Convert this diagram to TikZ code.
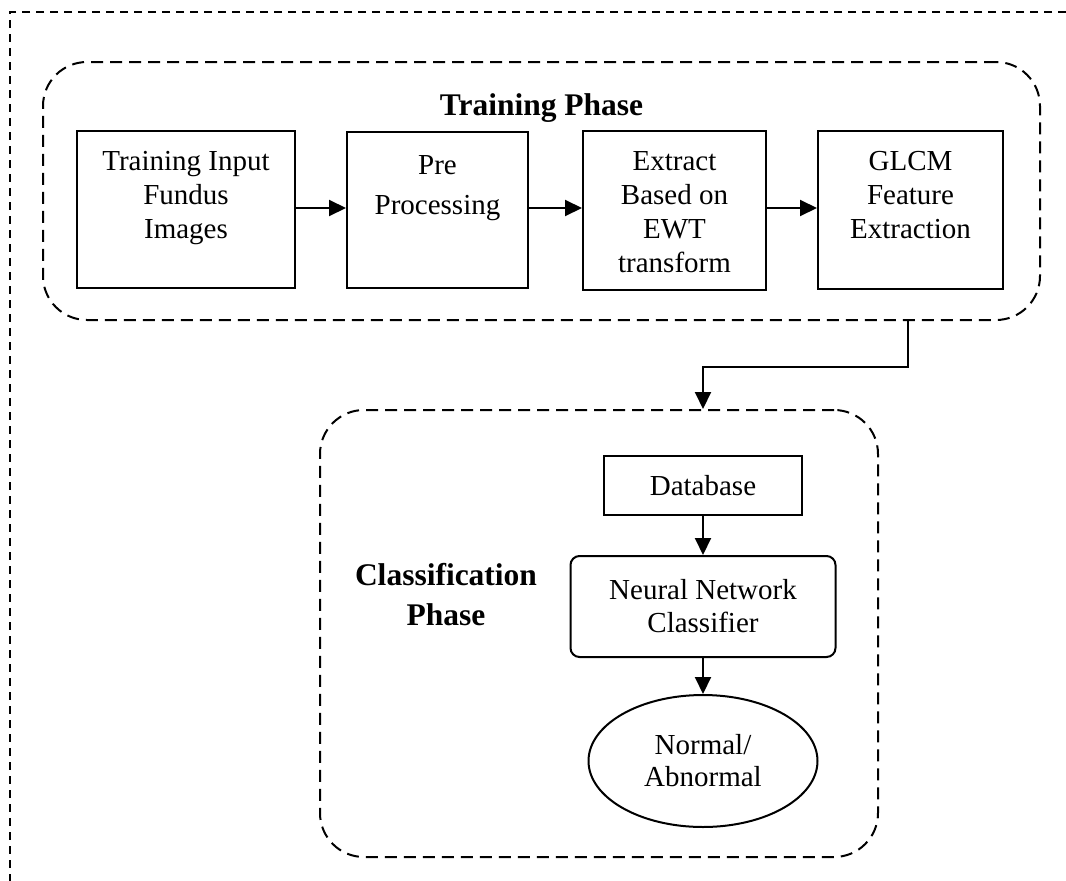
\documentclass[tikz,border=0pt]{standalone}
\usepackage{fontspec}
\setmainfont{Liberation Serif}
\usetikzlibrary{arrows.meta,shapes.geometric}
\begin{document}
\begin{tikzpicture}[x=1pt,y=-1pt,
  frame/.style={line width=1.8pt, dash pattern=on 8pt off 6pt},
  group/.style={draw, line width=2pt, dash pattern=on 12pt off 7pt, rounded corners=44pt, inner sep=0pt},
  stepbox/.style={draw, line width=2pt, inner sep=0pt},
  txt/.style={font=\fontsize{29}{34}\selectfont, align=center, inner sep=0pt},
  widetxt/.style={font=\fontsize{29}{40}\selectfont, align=center, inner sep=0pt},
  title/.style={font=\fontsize{31.5}{40}\selectfont\bfseries, align=center, inner sep=0pt},
  flow/.style={line width=2pt, -{Triangle[length=17pt,width=16pt]}},
]
\useasboundingbox (0,0) rectangle (1066,881);

% outer frame (only top and left edges fall on the page)
\coordinate (frameTR) at (1066,12);
\coordinate (frameTL) at (10,12);
\coordinate (frameBL) at (10,881);
\draw[frame] (frameTR) -- (frameTL) -- (frameBL);

% phase groups
\node[group, minimum width=997pt, minimum height=258pt] (train) at (541.5,191) {};
\node[group, minimum width=558pt, minimum height=447pt] (cls) at (599,633.5) {};

\node[title, anchor=north] (trainTitle) at (541.5,93) {Training Phase};
\node[title, anchor=north] (clsTitle) at (446,563) {Classification\\Phase};

% training pipeline
\node[stepbox, minimum width=218pt, minimum height=157pt] (b1) at (186,209.5) {};
\node[stepbox, minimum width=181pt, minimum height=156pt] (b2) at (437.5,210) {};
\node[stepbox, minimum width=183pt, minimum height=159pt] (b3) at (674.5,210.5) {};
\node[stepbox, minimum width=185pt, minimum height=158pt] (b4) at (910.5,210) {};

\node[txt, anchor=north] (t1) at (186,151) {Training Input\\Fundus\\Images};
\node[widetxt, anchor=north] (t2) at (437.5,155) {Pre\\Processing};
\node[txt, anchor=north] (t3) at (674.5,151) {Extract\\Based on\\EWT\\transform};
\node[txt, anchor=north] (t4) at (910.5,151) {GLCM\\Feature\\Extraction};

\draw[flow] (b1.east |- 0,208) -- (b2.west |- 0,208);
\draw[flow] (b2.east |- 0,208) -- (b3.west |- 0,208);
\draw[flow] (b3.east |- 0,208) -- (b4.west |- 0,208);

% classification pipeline
\node[stepbox, minimum width=198pt, minimum height=59pt, txt] (db) at (703,485.5) {Database};
\node[stepbox, rounded corners=9pt, minimum width=265pt, minimum height=101pt, font=\fontsize{29}{33}\selectfont, align=center] (nn) at (703,606.5) {Neural Network\\Classifier};
\node[draw, line width=2pt, ellipse, inner sep=0pt, minimum width=229pt, minimum height=132pt, font=\fontsize{29}{32}\selectfont, align=center] (out) at (703,761) {Normal/\\Abnormal};

\draw[flow] (db) -- (nn);
\draw[flow] (nn) -- (out);

% link between the phases
\coordinate (bend) at (703,367);
\draw[flow] ([xshift=366.5pt]train.south) |- (bend) -- (bend |- cls.north);
\end{tikzpicture}
\end{document}
